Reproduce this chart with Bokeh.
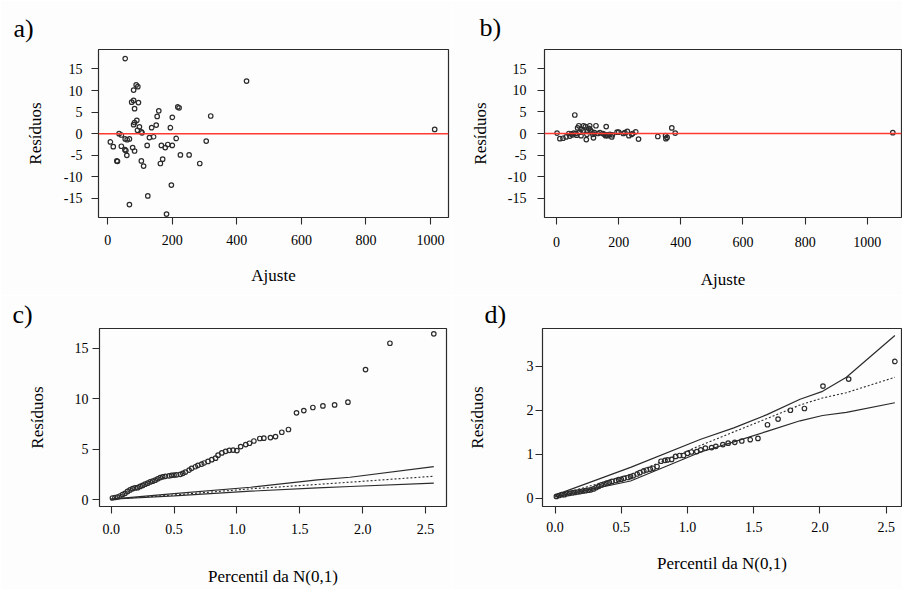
from bokeh.plotting import figure
from bokeh.models import Span, FixedTicker, NumeralTickFormatter
from bokeh.layouts import column, row
from bokeh.embed import file_html
from bokeh.resources import INLINE

# ---------------- data ----------------
# panel a: residuals vs fitted (model 1)
a_fit = [54, 430, 1013, 88, 93, 80, 74, 80, 95, 83, 158, 153, 217, 221, 200, 319, 90, 83, 80, 98,
         150, 136, 194, 92, 104, 106, 35, 42, 142, 129, 212, 54, 60, 67, 8, 305, 17, 42, 122, 166,
         186, 178, 200, 77, 53, 56, 83, 170, 225, 252, 59, 30, 28, 104, 163, 285, 111, 197, 124, 67, 182]
a_res = [17.4, 12.2, 1.0, 11.3, 10.9, 10.1, 7.3, 7.7, 7.2, 5.8, 5.3, 4.0, 6.2, 6.0, 3.8, 4.1, 3.1, 2.6, 2.1, 1.6,
         2.0, 1.4, 1.4, 0.8, 0.45, 0.2, 0.0, -0.3, -0.7, -0.9, -1.1, -1.2, -1.4, -1.2, -1.9, -1.7, -3.0, -2.9, -2.7, -2.7,
         -2.5, -3.2, -2.7, -3.2, -3.7, -3.9, -4.0, -5.9, -4.9, -4.9, -5.0, -6.4, -6.3, -6.3, -6.9, -6.9, -7.5, -11.9, -14.4, -16.4, -18.6]

# panel b: residuals vs fitted (model 2)
b_fit = [59, 2, 11, 21, 31, 40, 49, 43, 52, 56, 68, 72, 79, 87, 85, 93, 98, 107, 109, 114,
         127, 117, 79, 96, 119, 133, 149, 160, 154, 165, 172, 178, 195, 215, 228, 233, 242, 255, 264, 326,
         351, 352, 371, 382, 1082, 62, 65, 75, 100, 104, 122, 140, 158, 162, 180, 200, 220, 245, 356]
b_res = [4.3, 0.1, -1.2, -1.1, -0.8, 0.0, -0.1, -0.6, -0.3, 0.1, 1.3, 1.8, 1.0, 1.8, 0.6, 1.6, -0.2, 1.8, 0.8, 0.4,
         1.8, -0.2, -0.5, -1.4, -1.0, 0.0, 0.0, 1.6, -0.2, -0.5, -0.2, -0.8, 0.3, 0.0, 0.5, -0.5, -0.2, 0.4, -1.3, -0.7,
         -0.5, -1.2, 1.3, 0.1, 0.2, 0.0, -0.4, 0.3, 0.5, 1.2, 0.2, 0.2, -0.5, -0.3, -0.3, 0.3, 0.2, 0.0, -0.9]

# panels c, d: half-normal plots, percentiles of N(0,1)
q_pct = [0.01, 0.03, 0.05, 0.07, 0.09, 0.11, 0.13, 0.15, 0.17, 0.19, 0.21, 0.23, 0.25, 0.27, 0.29, 0.31,
         0.33, 0.35, 0.37, 0.39, 0.41, 0.43, 0.46, 0.48, 0.50, 0.52, 0.55, 0.57, 0.59, 0.62, 0.64, 0.67,
         0.69, 0.72, 0.74, 0.77, 0.80, 0.83, 0.85, 0.88, 0.91, 0.94, 0.97, 1.00, 1.03, 1.07, 1.10,
         1.135, 1.182, 1.214, 1.267, 1.307, 1.357, 1.41, 1.474, 1.532, 1.604, 1.684, 1.777, 1.883, 2.023, 2.217, 2.566]
c_abs = [0.15, 0.2, 0.25, 0.35, 0.5, 0.62, 0.8, 0.95, 1.08, 1.15, 1.18, 1.3, 1.4, 1.52, 1.62, 1.75,
         1.82, 1.92, 2.05, 2.18, 2.25, 2.3, 2.35, 2.4, 2.42, 2.45, 2.5, 2.6, 2.72, 2.92, 3.08, 3.25,
         3.38, 3.5, 3.62, 3.78, 3.95, 4.1, 4.4, 4.62, 4.78, 4.88, 4.9, 4.85, 5.25, 5.45, 5.58,
         5.8, 6.05, 6.08, 6.14, 6.24, 6.67, 6.94, 8.59, 8.82, 9.12, 9.28, 9.38, 9.65, 12.88, 15.49, 16.42]
d_abs = [0.04, 0.06, 0.08, 0.08, 0.10, 0.11, 0.12, 0.13, 0.14, 0.15, 0.16, 0.17, 0.18, 0.19, 0.21, 0.24,
         0.27, 0.30, 0.32, 0.34, 0.36, 0.38, 0.40, 0.42, 0.43, 0.45, 0.47, 0.49, 0.51, 0.55, 0.58, 0.62,
         0.64, 0.66, 0.68, 0.72, 0.84, 0.86, 0.87, 0.88, 0.95, 0.97, 0.97, 1.02, 1.05, 1.06, 1.10,
         1.14, 1.15, 1.18, 1.22, 1.25, 1.27, 1.30, 1.33, 1.36, 1.67, 1.80, 2.00, 2.04, 2.55, 2.71, 3.11]

# simulated envelopes
c_env_x = [0.0, 0.5, 1.108, 1.64, 1.90, 2.566]
c_env_hi = [0.05, 0.58, 1.22, 1.95, 2.21, 3.27]
c_env_mid = [0.04, 0.45, 1.06, 1.50, 1.72, 2.31]
c_env_lo = [0.03, 0.36, 0.83, 1.15, 1.29, 1.62]

d_env_x = [0.0, 0.57, 1.1, 1.35, 1.6, 1.85, 2.02, 2.2, 2.566]
d_env_hi = [0.07, 0.70, 1.34, 1.60, 1.90, 2.25, 2.43, 2.75, 3.70]
d_env_mid = [0.05, 0.54, 1.20, 1.51, 1.81, 2.12, 2.28, 2.40, 2.75]
d_env_lo = [0.03, 0.39, 1.05, 1.28, 1.52, 1.76, 1.88, 1.95, 2.17]

FONT = "Liberation Serif"
INK = "#2b2b2b"


def make(w, h, xr, yr, bl, br, bt, bb, xticks, yticks, xfmt, xlab, ylab,
         xs_lab, xs_ax, ys_lab, ys_ax, tag, tag_off, tag_stand):
    p = figure(width=w, height=h, x_range=xr, y_range=yr, output_backend="svg",
               toolbar_location=None, min_border_left=bl, min_border_right=br,
               min_border_top=bt, min_border_bottom=bb)
    p.xgrid.visible = False
    p.ygrid.visible = False
    p.outline_line_color = INK
    p.outline_line_width = 1.2
    p.background_fill_color = "#fdfdfd"
    p.border_fill_color = "#fdfdfd"
    for ax in (p.xaxis[0], p.yaxis[0]):
        ax.axis_line_color = None
        ax.major_tick_line_color = INK
        ax.major_tick_line_width = 1.1
        ax.major_tick_out = 7
        ax.major_tick_in = 0
        ax.minor_tick_line_color = None
        ax.major_label_text_font = FONT
        ax.major_label_text_font_size = "14px"
        ax.major_label_text_color = "#000000"
        ax.axis_label_text_font = FONT
        ax.axis_label_text_font_size = "17px"
        ax.axis_label_text_font_style = "normal"
        ax.axis_label_text_color = "#000000"
    p.xaxis.ticker = FixedTicker(ticks=xticks)
    p.yaxis.ticker = FixedTicker(ticks=yticks)
    p.xaxis.formatter = NumeralTickFormatter(format=xfmt)
    p.yaxis.formatter = NumeralTickFormatter(format="0")
    p.yaxis.major_label_orientation = "horizontal"
    p.xaxis.axis_label = xlab
    p.yaxis.axis_label = ylab
    p.xaxis.major_label_standoff = xs_lab
    p.xaxis.axis_label_standoff = xs_ax
    p.yaxis.major_label_standoff = ys_lab
    p.yaxis.axis_label_standoff = ys_ax
    # panel tag as a left-aligned title shifted left of the frame
    p.title.text = tag
    p.title.align = "left"
    p.title.offset = tag_off
    p.title.standoff = tag_stand
    p.title.text_font = FONT
    p.title.text_font_size = "26px"
    p.title.text_font_style = "normal"
    p.title.text_color = "#000000"
    return p


ab_yt = [-15, -10, -5, 0, 5, 10, 15]
ab_xt = [0, 200, 400, 600, 800, 1000]
cd_xt = [0.0, 0.5, 1.0, 1.5, 2.0, 2.5]

pa = make(451, 295, (-28.8, 1055.8), (-19.4, 19.5), 98, 3, 47, 78, ab_xt, ab_yt, "0",
          "Ajuste", "Resíduos", 10, 18, 9, 16, "a)", -85, 13)
pa.scatter(a_fit, a_res, size=4.5, fill_color=None, line_color=INK, line_width=1.2)
pa.add_layout(Span(location=0, dimension="width", line_color="#ff3b30", line_width=1.4))

pb = make(451, 295, (-38.5, 1110), (-19.5, 19.5), 93, 1, 49, 70, ab_xt, ab_yt, "0",
          "Ajuste", "Resíduos", 12, 20, 11, 15, "b)", -65, 15)
pb.scatter(b_fit, b_res, size=4.5, fill_color=None, line_color=INK, line_width=1.2)
pb.add_layout(Span(location=0, dimension="width", line_color="#ff3b30", line_width=1.4))

pc = make(451, 294, (-0.093, 2.667), (-0.69, 16.95), 99, 5, 33, 83, cd_xt, [0, 5, 10, 15], "0.0",
          "Percentil da N(0,1)", "Resíduos", 10, 30, 4, 25, "c)", -87, 0)
pc.line(c_env_x, c_env_hi, line_color=INK, line_width=1.2)
pc.line(c_env_x, c_env_lo, line_color=INK, line_width=1.2)
pc.line(c_env_x, c_env_mid, line_color=INK, line_width=1.1, line_dash="2 2")
pc.scatter(q_pct, c_abs, size=4.5, fill_color=None, line_color=INK, line_width=1.2)

pd_ = make(451, 294, (-0.095, 2.616), (-0.19, 3.86), 91, 1, 31, 83, cd_xt, [0, 1, 2, 3], "0.0",
           "Percentil da N(0,1)", "Resíduos", 8, 19, 2, 37, "d)", -58, 0)
pd_.line(d_env_x, d_env_hi, line_color=INK, line_width=1.2)
pd_.line(d_env_x, d_env_lo, line_color=INK, line_width=1.2)
pd_.line(d_env_x, d_env_mid, line_color=INK, line_width=1.1, line_dash="2 2")
pd_.scatter(q_pct, d_abs, size=4.5, fill_color=None, line_color=INK, line_width=1.2)

layout = column(row(pa, pb), row(pc, pd_))
open("out.html", "w").write(file_html(layout, INLINE))
